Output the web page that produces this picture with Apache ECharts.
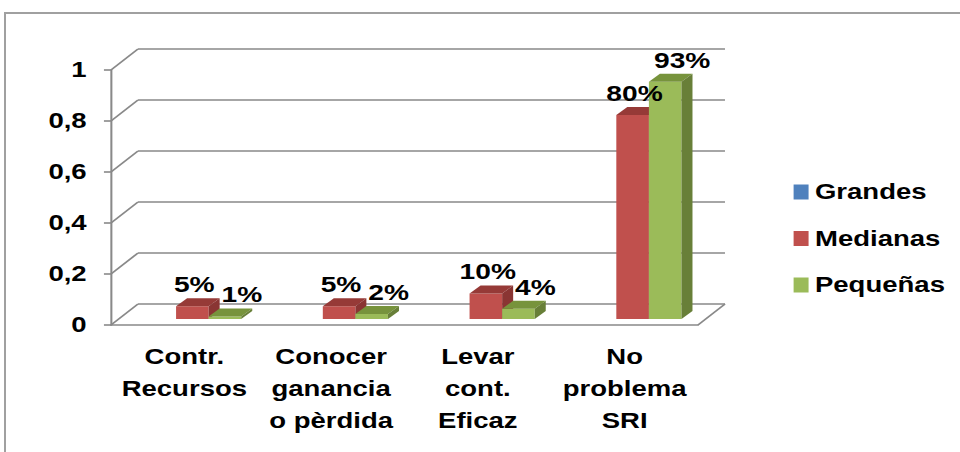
<!DOCTYPE html>
<html>
<head>
<meta charset="utf-8">
<script src="https://cdn.jsdelivr.net/npm/echarts@6/dist/echarts.min.js"></script>
<style>
    html, body { margin: 0; padding: 0; background: #fff; overflow: hidden; }
    #frame { position: absolute; left: 4px; top: 12px; width: 1000px; height: 1000px; border: 2px solid #a0a0a0; box-sizing: border-box; }
    /* the original picture is stretched sideways, so the chart is drawn narrow and scaled */
    #chart { position: absolute; left: 0; top: 0; width: 750px; height: 452px; transform: scaleX(1.28); transform-origin: 0 0; }
</style>
</head>
<body>
<div id="frame"></div>
<div id="chart"></div>
<script>
var categories = ['Contr.\nRecursos', 'Conocer\nganancia\no pèrdida', 'Levar\ncont.\nEficaz', 'No\nproblema\nSRI'];
var grandes = [null, null, null, null];
var medianas = [0.05, 0.05, 0.10, 0.80];
var pequenas = [0.01, 0.02, 0.04, 0.93];
var yTicks = [0, 0.2, 0.4, 0.6, 0.8, 1];

var FONT = '"Liberation Sans", Arial, sans-serif';
var GRID_COLOR = '#898989';
var DEPTH = [21.1, -21];      // floor / side wall depth
var BAR_OFF = [6.25, -6];     // bars sit a bit behind the front edge
var BAR_DEPTH = [8.6, -8];

var chart = echarts.init(document.getElementById('chart'), null, {renderer: 'svg'});

function frameItem(params, api) {
    var cs = params.coordSys;
    var y = api.coord([0, api.value(1)])[1];
    var st = {stroke: GRID_COLOR, lineWidth: 1.6, fill: null};
    var kids = [
        {type: 'line', shape: {x1: cs.x, y1: y, x2: cs.x + DEPTH[0], y2: y + DEPTH[1]}, style: st},
        {type: 'line', shape: {x1: cs.x + DEPTH[0], y1: y + DEPTH[1], x2: cs.x + cs.width + DEPTH[0], y2: y + DEPTH[1]}, style: st}
    ];
    if (api.value(1) === 0) {
        kids.push({type: 'line', shape: {x1: cs.x + cs.width, y1: y, x2: cs.x + cs.width + DEPTH[0], y2: y + DEPTH[1]}, style: st});
    }
    return {type: 'group', children: kids};
}

function barSeries(name, values, slot, colors, labelDx) {
    return {
        name: name,
        type: 'custom',
        z: 2,
        itemStyle: {color: colors[0]},
        data: values.map(function (v, i) { return [i, v]; }),
        renderItem: function (params, api) {
            var v = api.value(1);
            if (v == null || isNaN(v)) return null;
            var band = api.size([1, 0])[0];
            var bw = band * 0.222;
            var base = api.coord([api.value(0), 0]);
            var top = api.coord([api.value(0), v]);
            var x0 = base[0] - 1.5 * bw + slot * bw + BAR_OFF[0];
            var yb = base[1] + BAR_OFF[1];
            var yt = top[1] + BAR_OFF[1];
            var dx = BAR_DEPTH[0], dy = BAR_DEPTH[1];
            return {
                type: 'group',
                children: [
                    {type: 'rect', shape: {x: x0, y: yt, width: bw, height: yb - yt}, style: {fill: colors[0]}},
                    {type: 'polygon', shape: {points: [[x0, yt], [x0 + bw, yt], [x0 + bw + dx, yt + dy], [x0 + dx, yt + dy]]}, style: {fill: colors[1]}},
                    {type: 'polygon', shape: {points: [[x0 + bw, yt], [x0 + bw + dx, yt + dy], [x0 + bw + dx, yb + dy], [x0 + bw, yb]]}, style: {fill: colors[2]}},
                    {type: 'text', z2: 100, style: {
                        text: Math.round(v * 100) + '%',
                        x: x0 + bw / 2 + labelDx, y: yt - 22,
                        align: 'center', verticalAlign: 'middle',
                        fontSize: 22, fontWeight: 'bold', fontFamily: FONT, fill: '#000'
                    }}
                ]
            };
        }
    };
}

var option = {
    animation: false,
    grid: {left: 86.7, right: 204.7, top: 70, bottom: 127},
    legend: {
        data: ['Grandes', 'Medianas', 'Pequeñas'],
        orient: 'vertical',
        left: 615,
        top: 176,
        itemWidth: 11.7,
        itemHeight: 15,
        itemGap: 24.5,
        icon: 'rect',
        selectedMode: false,
        textStyle: {fontSize: 21.5, fontWeight: 'bold', fontFamily: FONT, color: '#000', lineHeight: 22}
    },
    xAxis: {
        type: 'category',
        data: categories,
        axisLine: {lineStyle: {color: GRID_COLOR, width: 1.6}},
        axisTick: {length: 8, lineStyle: {color: GRID_COLOR, width: 1.6}},
        axisLabel: {
            interval: 0, margin: 16, color: '#000',
            fontSize: 21.5, fontWeight: 'bold', fontFamily: FONT, lineHeight: 32
        },
        splitLine: {show: false}
    },
    yAxis: {
        type: 'value',
        min: 0, max: 1, interval: 0.2,
        axisLine: {show: true, lineStyle: {color: GRID_COLOR, width: 1.6}},
        axisTick: {show: true, length: 5.5, lineStyle: {color: GRID_COLOR, width: 1.6}},
        axisLabel: {
            margin: 19, color: '#000',
            fontSize: 21.5, fontWeight: 'bold', fontFamily: FONT,
            formatter: function (v) { return String(+v.toFixed(1)).replace('.', ','); }
        },
        splitLine: {show: false}
    },
    series: [
        {
            name: 'frame',
            type: 'custom',
            z: 1,
            silent: true,
            data: yTicks.map(function (v) { return [0, v]; }),
            renderItem: frameItem
        },
        barSeries('Grandes', grandes, 0, ['#4F81BD', '#3A6090', '#335580'], 1.5),
        barSeries('Medianas', medianas, 1, ['#C0504D', '#963A37', '#8A3533'], 1.5),
        barSeries('Pequeñas', pequenas, 2, ['#9BBB59', '#77933C', '#687F38'], 13.3)
    ]
};

chart.setOption(option);
</script>
</body>
</html>
